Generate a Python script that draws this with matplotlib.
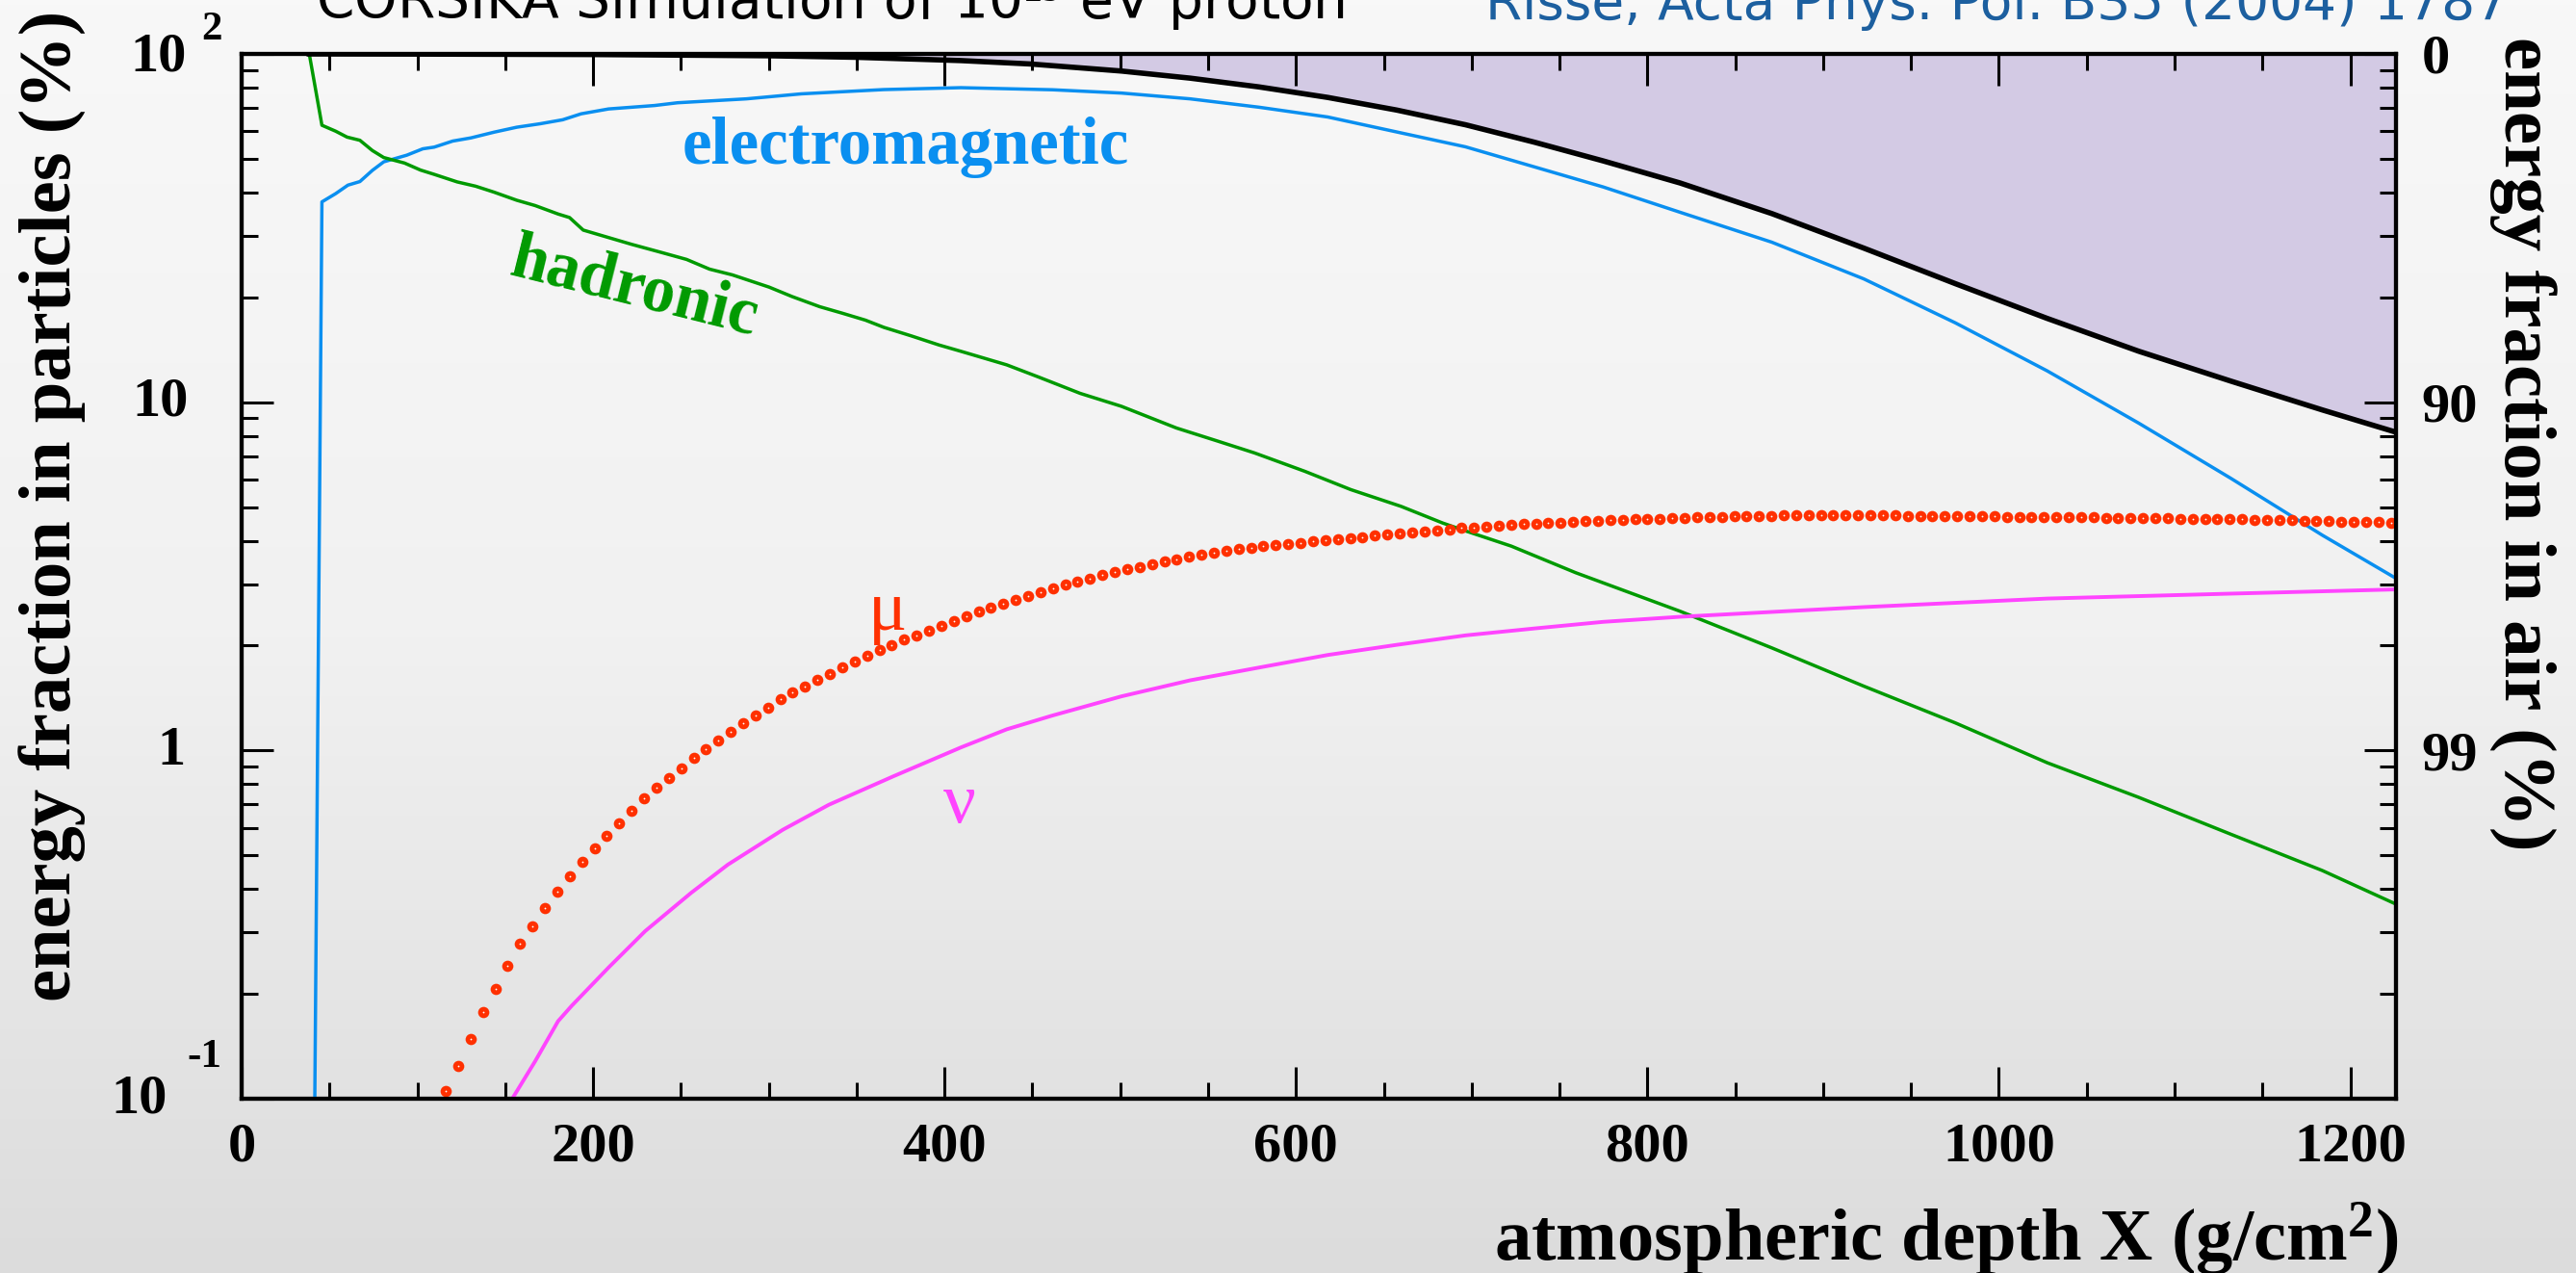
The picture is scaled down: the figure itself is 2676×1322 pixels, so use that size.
import numpy as np
import matplotlib
matplotlib.use("Agg")
import matplotlib.pyplot as plt
from matplotlib.colors import LinearSegmentedColormap
from matplotlib.ticker import FixedLocator, LogLocator, NullFormatter, MultipleLocator

# ---------------- data ----------------
# hadronic component
had_x = [38.5, 45.7, 53.5, 60, 67.3, 74.4, 80.9, 92.7, 101.8, 109.6, 122.7, 133.2, 143.6,
         156.6, 167, 180.1, 186.6, 194.4, 208.8, 221.9, 240.2, 253.2, 266.3, 279.3, 300.2,
         313.3, 329, 342, 355, 365.5, 381.1, 396.8, 409.3, 435.4, 453.7, 477.2, 500.7, 532,
         555.5, 576.4, 605.1, 631.2, 659.9, 683.4, 696.5, 722.6, 759.1, 818.6, 870.8, 923.1,
         975.2, 1027.5, 1079.7, 1131.9, 1184.1, 1226]
had_y = [100, 62.4, 60, 57.7, 56.5, 52.8, 50.4, 48.6, 46.4, 45.1, 42.9, 41.7, 40.1,
         38.0, 36.7, 34.7, 33.9, 31.2, 29.7, 28.4, 26.8, 25.7, 24.1, 23.2, 21.4,
         20.1, 18.8, 18.0, 17.2, 16.4, 15.5, 14.6, 14.0, 12.8, 11.8, 10.6, 9.73, 8.43,
         7.73, 7.15, 6.33, 5.61, 5.02, 4.50, 4.27, 3.86, 3.24, 2.51, 1.97, 1.53,
         1.20, 0.922, 0.733, 0.575, 0.452, 0.362]

# electromagnetic component
em_x = [38.5, 45.7, 53.5, 60.5, 67.3, 74.4, 80.9, 94, 103.1, 109.6, 120.1, 130.5, 143.6,
        156.6, 169.7, 182.7, 193.2, 208.8, 235, 248, 287.2, 318.5, 365.5, 409.3, 461.5,
        500.7, 539.8, 579, 618.1, 657.3, 696.5, 735.6, 774.8, 818.6, 870.8, 923.1, 975.2,
        1027.5, 1079.7, 1131.9, 1184.1, 1226]
em_y = [0.001, 37.6, 39.7, 42.0, 43.0, 46.3, 49.0, 51.2, 53.4, 54.0, 56.2, 57.4, 59.6,
        61.6, 63.0, 64.7, 67.3, 69.5, 71.1, 72.4, 74.3, 76.8, 79.0, 80.0, 78.9,
        77.2, 74.3, 70.3, 65.9, 59.7, 54.1, 47.4, 41.5, 35.1, 28.8, 22.6, 16.9,
        12.3, 8.7, 6.05, 4.15, 3.12]

# total energy in particles (black line, shaded above = energy in air)
tot_x = [38.5, 100, 200, 300, 350, 409.3, 448.5, 500.7, 539.8, 579, 618.1, 657.3, 696.5,
         735.6, 774.8, 818.6, 870.8, 923.1, 975.2, 1027.5, 1079.7, 1131.9, 1184.1, 1226]
tot_y = [100, 99.9, 99.6, 98.8, 97.8, 95.7, 93.6, 89.3, 85.2, 80.4, 75.0, 69.0, 62.6,
         55.8, 49.3, 42.6, 34.8, 27.7, 21.9, 17.4, 14.0, 11.5, 9.5, 8.2]

# neutrinos
nu_x = [154, 167, 180.1, 187.9, 208.8, 229.7, 255.8, 276.7, 308, 334.1, 370.7, 409.3,
        435.4, 461.5, 500.7, 539.8, 579, 618.1, 657.3, 696.5, 735.6, 774.8, 818.6, 923.1,
        1027.5, 1131.9, 1226]
nu_y = [0.1, 0.128, 0.167, 0.185, 0.238, 0.303, 0.390, 0.470, 0.592, 0.698, 0.842, 1.02,
        1.15, 1.26, 1.43, 1.59, 1.73, 1.88, 2.01, 2.14, 2.24, 2.34, 2.42, 2.58,
        2.73, 2.82, 2.90]

# muons (one dot per depth bin; bins start at 116.2 g/cm2, width 7.05 g/cm2)
mu_first_depth = 116.2
mu_bin_width = 7.05
mu_y = [0.105, 0.124, 0.148, 0.177, 0.207, 0.240, 0.278, 0.313, 0.352, 0.394,
        0.436, 0.479, 0.523, 0.568, 0.619, 0.669, 0.727, 0.780, 0.832, 0.889,
        0.950, 1.01, 1.07, 1.13, 1.20, 1.26, 1.33, 1.40, 1.47, 1.53,
        1.60, 1.66, 1.73, 1.80, 1.87, 1.94, 2.01, 2.08, 2.14, 2.21,
        2.28, 2.35, 2.43, 2.50, 2.57, 2.64, 2.71, 2.78, 2.85, 2.92,
        2.99, 3.06, 3.12, 3.19, 3.26, 3.31, 3.37, 3.42, 3.48, 3.54,
        3.60, 3.65, 3.70, 3.74, 3.78, 3.82, 3.86, 3.89, 3.92, 3.95,
        3.98, 4.01, 4.04, 4.07, 4.10, 4.14, 4.17, 4.20, 4.23, 4.26,
        4.29, 4.32, 4.35, 4.37, 4.40, 4.42, 4.45, 4.47, 4.48, 4.50,
        4.51, 4.53, 4.55, 4.56, 4.58, 4.59, 4.61, 4.62, 4.63, 4.64,
        4.66, 4.67, 4.68, 4.69, 4.70, 4.71, 4.72, 4.72, 4.73, 4.73,
        4.74, 4.74, 4.74, 4.74, 4.74, 4.73, 4.73, 4.73, 4.72, 4.72,
        4.72, 4.71, 4.71, 4.70, 4.70, 4.70, 4.69, 4.69, 4.68, 4.68,
        4.68, 4.67, 4.67, 4.67, 4.66, 4.66, 4.65, 4.65, 4.64, 4.64,
        4.63, 4.63, 4.62, 4.62, 4.61, 4.61, 4.60, 4.59, 4.58, 4.58,
        4.57, 4.56, 4.55, 4.54, 4.54, 4.53, 4.52, 4.51]
mu_x = mu_first_depth + mu_bin_width * np.arange(len(mu_y))

x_major = [0, 200, 400, 600, 800, 1000, 1200]
x_major_labels = ["0", "200", "400", "600", "800", "1000", "1200"]
air_ticks = [100, 10, 1]
air_labels = ["0", "90", "99"]

# ---------------- style ----------------
W, H, DPI = 2676, 1322, 100
C_HAD = "#009a00"
C_EM = "#0a8ff0"
C_MU = "#ff3000"
C_NU = "#ff44ff"
C_AIR = "#d3cae4"
C_CITE = "#1c5f9f"
SERIF = "Liberation Serif"

plt.rcParams["mathtext.fontset"] = "custom"
plt.rcParams["mathtext.rm"] = "Liberation Serif:bold"
plt.rcParams["mathtext.bf"] = "Liberation Serif:bold"
plt.rcParams["mathtext.it"] = "Liberation Serif:bold:italic"

fig = plt.figure(figsize=(W / DPI, H / DPI), dpi=DPI)

# slide background gradient
bg = fig.add_axes([0, 0, 1, 1], zorder=-10)
cmap = LinearSegmentedColormap.from_list("bg", ["#f8f8f8", "#f1f1f1", "#dcdcdc"])
bg.imshow(np.linspace(0, 1, 256)[:, None], aspect="auto", cmap=cmap,
          extent=[0, 1, 0, 1], origin="upper")
bg.set_axis_off()


def fx(px):
    return px / W


def fy(py):
    return 1 - py / H


L, R, T, B = 251, 2489, 56, 1141
ax = fig.add_axes([fx(L), fy(B), fx(R) - fx(L), fy(T) - fy(B)])
ax.set_facecolor("none")
ax.set_yscale("log")
ax.set_xlim(0, 1226)
ax.set_ylim(0.1, 100)

ax.fill_between(tot_x, tot_y, 100, color=C_AIR, lw=0, zorder=1)
ax.plot(em_x, em_y, color=C_EM, lw=2.5, zorder=3)
ax.plot(had_x, had_y, color=C_HAD, lw=2.5, zorder=3)
ax.plot(nu_x, nu_y, color=C_NU, lw=2.8, zorder=3)
ax.plot(tot_x, tot_y, color="black", lw=4.0, zorder=4)
ax.plot(mu_x, mu_y, "o", ms=8.4, color=C_MU, mew=0, zorder=5)
ax.plot(mu_x, mu_y, "o", ms=1.3, color="white", mew=0, zorder=6)

for s in ax.spines.values():
    s.set_linewidth(3.0)

ax.xaxis.set_major_locator(FixedLocator(x_major))
ax.xaxis.set_minor_locator(MultipleLocator(50))
ax.set_xticklabels(x_major_labels)
ax.tick_params(axis="x", which="both", direction="in", top=True, bottom=True,
               width=2.2, labelsize=42, pad=18)
ax.tick_params(axis="x", which="major", length=24)
ax.tick_params(axis="x", which="minor", length=12.5)
for lab in ax.get_xticklabels():
    lab.set_fontfamily(SERIF)
    lab.set_fontweight("bold")

ax.yaxis.set_major_locator(FixedLocator([0.1, 1, 10, 100]))
ax.yaxis.set_minor_locator(LogLocator(base=10, subs=np.arange(2, 10)))
ax.yaxis.set_major_formatter(NullFormatter())
ax.yaxis.set_minor_formatter(NullFormatter())
ax.tick_params(axis="y", which="both", direction="in", left=True, right=False,
               width=2.2)
ax.tick_params(axis="y", which="major", length=24)
ax.tick_params(axis="y", which="minor", length=12.5)

ax2 = ax.twinx()
ax2.set_yscale("log")
ax2.set_ylim(0.1, 100)
ax2.yaxis.set_major_locator(FixedLocator(air_ticks))
ax2.set_yticklabels(air_labels)
ax2.yaxis.set_minor_locator(LogLocator(base=10, subs=np.arange(2, 10)))
ax2.yaxis.set_minor_formatter(NullFormatter())
ax2.tick_params(axis="y", which="both", direction="in", width=2.2, labelsize=42, pad=19)
ax2.tick_params(axis="y", which="major", length=24)
ax2.tick_params(axis="y", which="minor", length=12.5)
for lab in ax2.get_yticklabels():
    lab.set_fontfamily(SERIF)
    lab.set_fontweight("bold")
for s in ax2.spines.values():
    s.set_linewidth(3.0)

# left decade labels in ROOT style (10 with detached exponent)
tk = dict(family=SERIF, weight="bold", color="black")
fig.text(fx(194), fy(59), "10", fontsize=42, ha="right", va="center", **tk)
fig.text(fx(209), fy(31), "2", fontsize=31, ha="left", va="center", **tk)
fig.text(fx(196), fy(417), "10", fontsize=42, ha="right", va="center", **tk)
fig.text(fx(192), fy(780), "1", fontsize=42, ha="right", va="center", **tk)
fig.text(fx(174), fy(1142), "10", fontsize=42, ha="right", va="center", **tk)
fig.text(fx(194), fy(1098), "-1", fontsize=31, ha="left", va="center", **tk)

renderer = fig.canvas.get_renderer()


def fit(t, target, dim="w"):
    bb = t.get_window_extent(renderer=renderer)
    cur = bb.width if dim == "w" else bb.height
    t.set_fontsize(t.get_fontsize() * target / cur)


# axis titles
xl = fig.text(fx(2491), fy(1308), "atmospheric depth X (g/cm$^{2}$)", ha="right",
              va="baseline", fontsize=50, **tk)
fit(xl, 940)
yl = fig.text(fx(55), fy(525), "energy fraction in particles (%)", rotation=90,
              ha="center", va="center", fontsize=50, **tk)
fit(yl, 1030, "h")
rl = fig.text(fx(2620), fy(461), "energy fraction in air (%)", rotation=-90,
              ha="center", va="center", fontsize=50, **tk)
fit(rl, 845, "h")

# curve labels
em_t = fig.text(fx(709), fy(170), "electromagnetic", ha="left", va="baseline",
                color=C_EM, family=SERIF, weight="bold", fontsize=45)
fit(em_t, 465)
fig.text(fx(659), fy(300), "hadronic", ha="center", va="center", rotation=-14,
         rotation_mode="anchor", color=C_HAD, family=SERIF, weight="bold",
         fontsize=em_t.get_fontsize())
fig.text(fx(922), fy(636), "\u03bc", ha="center", va="center", color=C_MU,
         family=SERIF, fontsize=54)
fig.text(fx(997), fy(836), "\u03bd", ha="center", va="center", color=C_NU,
         family=SERIF, fontsize=54)

# slide header (cut off at the top edge, as in the reference)
t1 = fig.text(fx(328), fy(20), "CORSIKA Simulation of 10$^{19}$ eV proton", ha="left",
              va="baseline", family="DejaVu Sans", fontsize=34, color="black")
fit(t1, 1070)
t2 = fig.text(fx(1543), fy(20), "Risse, Acta Phys. Pol. B35 (2004) 1787", ha="left",
              va="baseline", family="DejaVu Sans", fontsize=34, color=C_CITE)
fit(t2, 1066)

fig.savefig("out.png", dpi=DPI)
